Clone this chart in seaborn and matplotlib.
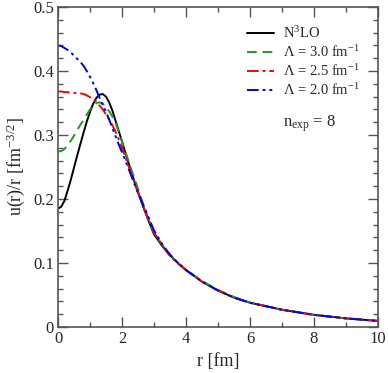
import matplotlib
matplotlib.use("Agg")
import matplotlib.pyplot as plt
from matplotlib.ticker import MultipleLocator
import seaborn as sns
import pandas as pd

# r grid [fm] and u(r)/r values
r = [0.0, 0.1, 0.2, 0.3, 0.4, 0.5, 0.6, 0.7, 0.8, 0.9,
     1.0, 1.1, 1.2, 1.3, 1.4, 1.5, 1.6, 1.7, 1.8, 1.9,
     2.0, 2.1, 2.2, 2.3, 2.4, 2.5, 2.6, 2.7, 2.8, 2.9,
     3.0, 3.25, 3.5, 3.75, 4.0, 4.5, 5.0, 5.5, 6.0, 7.0, 8.0, 9.0, 10.0]

n3lo = [0.185, 0.188, 0.197, 0.213, 0.230, 0.249, 0.268, 0.286, 0.304, 0.321,
        0.336, 0.349, 0.358, 0.363, 0.364, 0.360, 0.351, 0.338, 0.322, 0.306,
        0.290, 0.273, 0.257, 0.241, 0.226, 0.211, 0.197, 0.183, 0.170, 0.157,
        0.145, 0.127, 0.112, 0.100, 0.089, 0.071, 0.057, 0.046, 0.038, 0.027,
        0.019, 0.0135, 0.0095]
lam30 = [0.274, 0.275, 0.278, 0.284, 0.291, 0.299, 0.308, 0.316, 0.324, 0.332,
         0.340, 0.346, 0.350, 0.351, 0.349, 0.344, 0.337, 0.329, 0.319, 0.305,
         0.290, 0.275, 0.260, 0.245, 0.231, 0.216, 0.201, 0.186, 0.172, 0.159,
         0.147, 0.129, 0.113, 0.100, 0.090, 0.072, 0.058, 0.047, 0.038, 0.027,
         0.019, 0.0135, 0.0095]
lam25 = [0.368, 0.368, 0.367, 0.367, 0.366, 0.366, 0.365, 0.365, 0.364, 0.362,
         0.359, 0.356, 0.352, 0.346, 0.340, 0.332, 0.324, 0.315, 0.305, 0.293,
         0.280, 0.266, 0.252, 0.238, 0.224, 0.210, 0.197, 0.184, 0.172, 0.160,
         0.148, 0.128, 0.111, 0.099, 0.089, 0.071, 0.057, 0.046, 0.038, 0.027,
         0.019, 0.0135, 0.0095]
lam20 = [0.440, 0.439, 0.436, 0.433, 0.429, 0.424, 0.419, 0.414, 0.408, 0.400,
         0.391, 0.381, 0.370, 0.358, 0.347, 0.336, 0.324, 0.311, 0.298, 0.285,
         0.273, 0.261, 0.248, 0.235, 0.222, 0.210, 0.198, 0.187, 0.175, 0.163,
         0.151, 0.130, 0.113, 0.100, 0.089, 0.071, 0.057, 0.046, 0.038, 0.027,
         0.019, 0.0135, 0.0095]

labels = [r"N$^3$LO", r"$\Lambda$ = 3.0 fm$^{-1}$",
          r"$\Lambda$ = 2.5 fm$^{-1}$", r"$\Lambda$ = 2.0 fm$^{-1}$"]

sns.set_style("ticks")
plt.rcParams['font.family'] = ['Liberation Serif', 'DejaVu Serif']
plt.rcParams['mathtext.fontset'] = 'custom'
plt.rcParams['mathtext.rm'] = 'Liberation Serif'
plt.rcParams['mathtext.it'] = 'Liberation Serif:italic'

fig = plt.figure(figsize=(3.88, 3.73), dpi=100)
ax = fig.add_axes([0.1495, 0.1233, 0.8245, 0.8579])

styles = [
    ("black", "-", 1.4),
    ("#1f9a1f", (0, (5, 3)), 1.4),
    ("red", (0, (6, 2, 1.5, 2)), 1.4),
    ("blue", (0, (6, 2, 1.5, 2, 1.5, 2)), 1.4),
]
for vals, lab, (c, ls, lw) in zip([n3lo, lam30, lam25, lam20], labels, styles):
    df = pd.DataFrame({"r": r, "u": vals})
    sns.lineplot(data=df, x="r", y="u", color=c, linestyle=ls, linewidth=lw,
                 label=lab, ax=ax)

ax.set_xlim(0, 10)
ax.set_ylim(0, 0.5)
ax.xaxis.set_major_locator(MultipleLocator(2))
ax.xaxis.set_minor_locator(MultipleLocator(1))
ax.yaxis.set_major_locator(MultipleLocator(0.1))
ax.yaxis.set_minor_locator(MultipleLocator(0.02))
ax.xaxis.set_major_formatter(plt.FuncFormatter(lambda v, p: "%g" % v))
ax.yaxis.set_major_formatter(plt.FuncFormatter(lambda v, p: "%g" % v))
ax.tick_params(which="both", direction="in", top=True, right=True,
               color="#555555", labelsize=12, pad=3)
ax.tick_params(which="major", length=7, width=1)
ax.tick_params(which="minor", length=3.5, width=1)
for s in ax.spines.values():
    s.set_color("#555555")
    s.set_linewidth(1.2)

ax.set_xlabel("r [fm]", fontsize=13, labelpad=4)
ax.set_ylabel(r"u(r)/r [fm$^{-3/2}$]", fontsize=13, labelpad=4)

leg = ax.legend(loc="upper left", bbox_to_anchor=(0.59, 0.942), frameon=False,
                fontsize=10.5, handlelength=1.85, handletextpad=0.65,
                labelspacing=0.2, borderaxespad=0, borderpad=0)
ax.text(0.703, 0.635, r"n$_{\rm exp}$ = 8", transform=ax.transAxes,
        fontsize=12, ha="left", va="center")

fig.savefig("out.png", dpi=100)
